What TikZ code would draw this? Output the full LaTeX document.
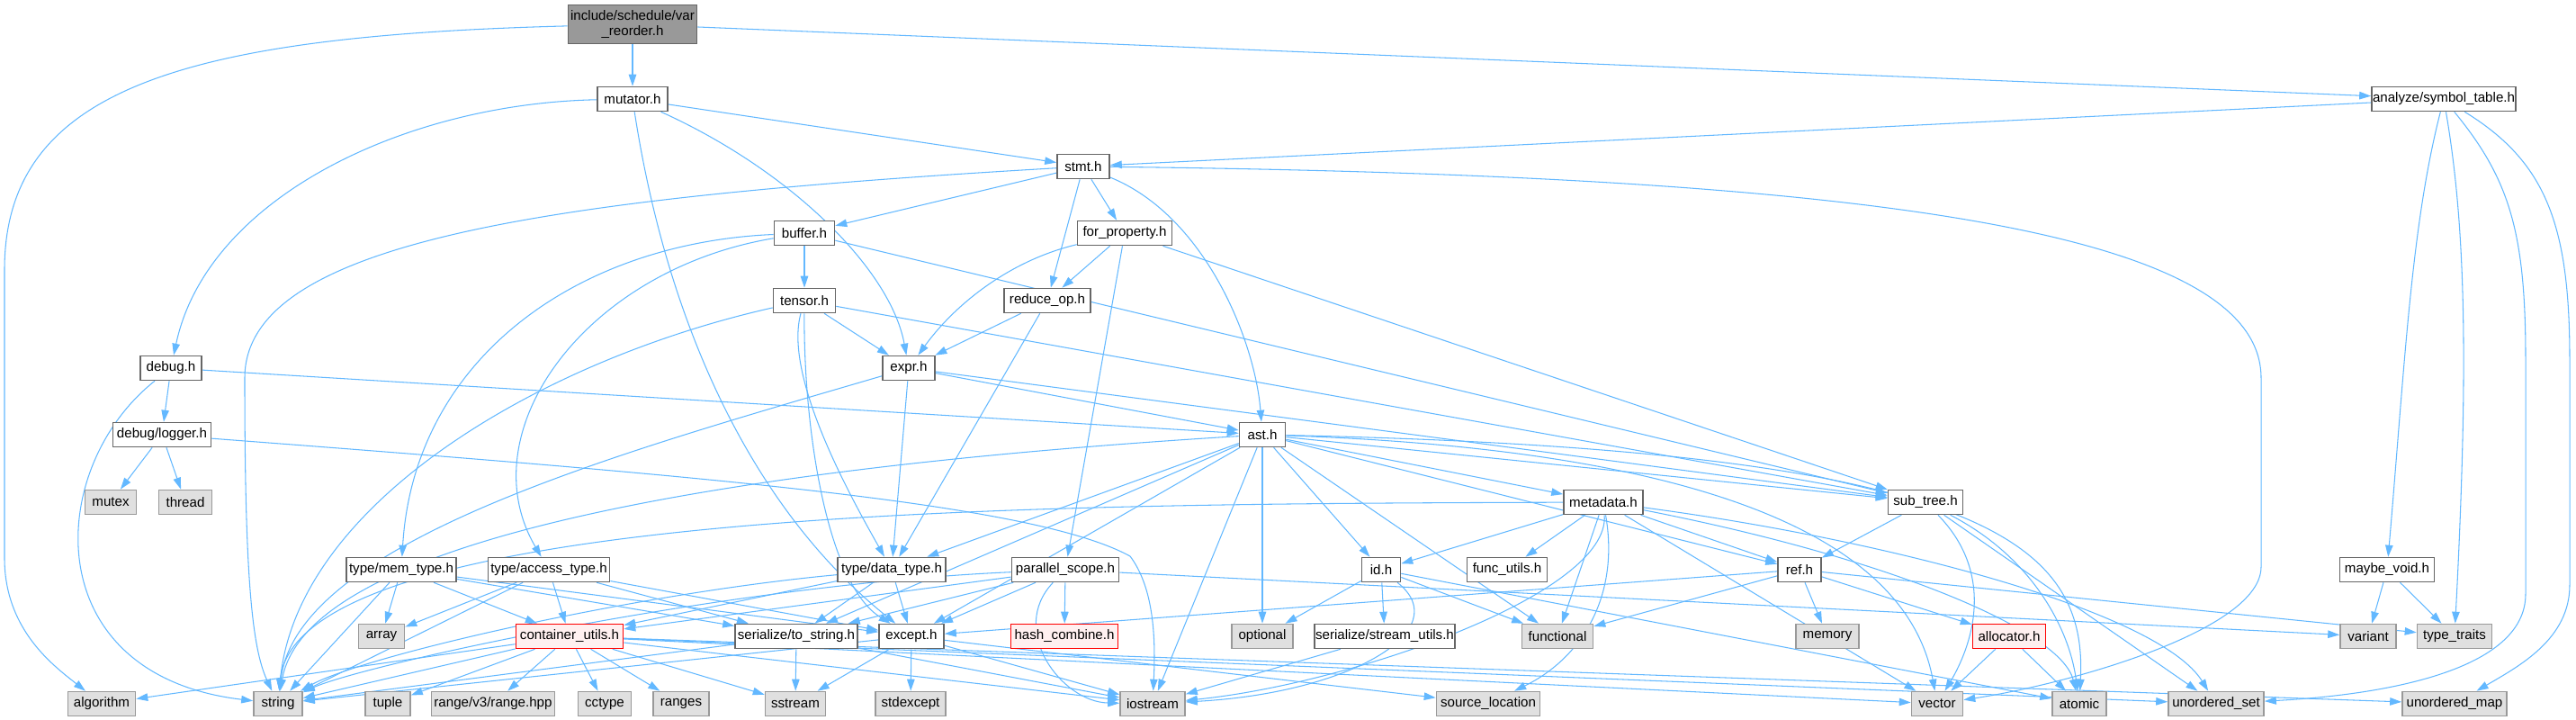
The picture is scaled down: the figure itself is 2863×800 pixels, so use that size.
\documentclass[tikz,border=0pt]{standalone}
\usepackage{fontspec}
\setmainfont{Liberation Sans}
\usepackage{tikz}
\usetikzlibrary{arrows.meta}
\definecolor{edgeblue}{HTML}{63B8FF}
\definecolor{boxline}{HTML}{666666}
\definecolor{sysfill}{HTML}{E0E0E0}
\definecolor{sysline}{HTML}{999999}
\definecolor{topfill}{HTML}{999999}
\definecolor{missfill}{HTML}{FFF0F0}
\pgfdeclarelayer{edges}
\pgfsetlayers{edges,main}
\tikzset{
  hdr/.style={draw=boxline, fill=white, line width=0.45pt, minimum height=0.27cm,
    inner sep=0pt, font=\fontsize{4.3}{4.8}\selectfont},
  sys/.style={hdr, draw=sysline, fill=sysfill},
  miss/.style={hdr, draw=red, fill=missfill},
  topfile/.style={hdr, fill=topfill, minimum height=0.43cm, align=center},
  dep/.style={-{Triangle[length=1.3mm,width=0.85mm]}, draw=edgeblue, line width=0.3pt},
}

\begin{document}
\begin{tikzpicture}[x=0.01cm,y=-0.01cm]
      \useasboundingbox (0,0) rectangle (2863,800);
      % files of the project
      \node[topfile, minimum width=1.43cm] (vr) at (703,27) {include/schedule/var\\\_reorder.h};
      \node[hdr, minimum width=0.78cm] (mutator) at (703,110) {mutator.h};
      \node[hdr, minimum width=1.60cm] (symtab) at (2716,110) {analyze/symbol\_table.h};
      \node[hdr, minimum width=0.58cm] (stmt) at (1204,185) {stmt.h};
      \node[hdr, minimum width=0.67cm] (buffer) at (894,259) {buffer.h};
      \node[hdr, minimum width=1.05cm] (forprop) at (1250,259) {for\_property.h};
      \node[hdr, minimum width=0.69cm] (tensor) at (894,334) {tensor.h};
      \node[hdr, minimum width=0.96cm] (reduceop) at (1164,334) {reduce\_op.h};
      \node[hdr, minimum width=0.68cm] (debug) at (190,409) {debug.h};
      \node[hdr, minimum width=0.58cm] (expr) at (1010,409) {expr.h};
      \node[hdr, minimum width=1.09cm] (logger) at (180,483) {debug/logger.h};
      \node[hdr, minimum width=0.51cm] (ast) at (1403,483) {ast.h};
      \node[hdr, minimum width=0.88cm] (metadata) at (1782,558) {metadata.h};
      \node[hdr, minimum width=0.83cm] (subtree) at (2140,558) {sub\_tree.h};
      \node[hdr, minimum width=1.22cm] (memtype) at (446,633) {type/mem\_type.h};
      \node[hdr, minimum width=1.35cm] (accesstype) at (610,633) {type/access\_type.h};
      \node[hdr, minimum width=1.20cm] (datatype) at (991,633) {type/data\_type.h};
      \node[hdr, minimum width=1.19cm] (parscope) at (1184,633) {parallel\_scope.h};
      \node[hdr, minimum width=0.43cm] (id) at (1535,633) {id.h};
      \node[hdr, minimum width=0.89cm] (funcutils) at (1675,633) {func\_utils.h};
      \node[hdr, minimum width=0.48cm] (ref) at (2000,633) {ref.h};
      \node[hdr, minimum width=1.05cm] (maybevoid) at (2653,633) {maybe\_void.h};
      \node[miss, minimum width=1.19cm] (contutils) at (633,707) {container\_utils.h};
      \node[hdr, minimum width=1.36cm] (tostring) at (885,707) {serialize/to\_string.h};
      \node[hdr, minimum width=0.72cm] (except) at (1013,707) {except.h};
      \node[miss, minimum width=1.19cm] (hashcomb) at (1183,707) {hash\_combine.h};
      \node[hdr, minimum width=1.56cm] (streamutils) at (1539,707) {serialize/stream\_utils.h};
      \node[miss, minimum width=0.81cm] (allocator) at (2233,707) {allocator.h};
      % system headers
      \node[sys, minimum width=0.57cm] (mutex) at (123,558) {mutex};
      \node[sys, minimum width=0.59cm] (thread) at (206,558) {thread};
      \node[sys, minimum width=0.51cm] (array) at (424,707) {array};
      \node[sys, minimum width=0.68cm] (optional) at (1403,707) {optional};
      \node[sys, minimum width=0.79cm] (functional) at (1731,707) {functional};
      \node[sys, minimum width=0.70cm] (memory) at (2031,707) {memory};
      \node[sys, minimum width=0.62cm] (variant) at (2632,707) {variant};
      \node[sys, minimum width=0.83cm] (typetraits) at (2728,707) {type\_traits};
      \node[sys, minimum width=0.75cm] (algorithm) at (113,782) {algorithm};
      \node[sys, minimum width=0.54cm] (string) at (309,782) {string};
      \node[sys, minimum width=0.50cm] (tuple) at (431,782) {tuple};
      \node[sys, minimum width=1.37cm] (rangev3) at (548,782) {range/v3/range.hpp};
      \node[sys, minimum width=0.59cm] (cctype) at (672,782) {cctype};
      \node[sys, minimum width=0.62cm] (ranges) at (757,782) {ranges};
      \node[sys, minimum width=0.67cm] (sstream) at (884,782) {sstream};
      \node[sys, minimum width=0.78cm] (stdexcept) at (1012,782) {stdexcept};
      \node[sys, minimum width=0.72cm] (iostream) at (1281,782) {iostream};
      \node[sys, minimum width=1.15cm] (sourceloc) at (1654,782) {source\_location};
      \node[sys, minimum width=0.57cm] (vector) at (2153,782) {vector};
      \node[sys, minimum width=0.60cm] (atomic) at (2311,782) {atomic};
      \node[sys, minimum width=1.06cm] (unordset) at (2463,782) {unordered\_set};
      \node[sys, minimum width=1.16cm] (unordmap) at (2728,782) {unordered\_map};
      \begin{pgfonlayer}{edges}
      % var_reorder.h
      \draw[dep] (vr) .. controls (200,40) and (5,100) .. (5,300) -- (5,620) .. controls (5,700) and (60,740) .. (algorithm);
      \draw[dep] (vr) -- (mutator);
      \draw[dep] (vr) -- (symtab);
      % mutator.h
      \draw[dep] (mutator) .. controls (450,115) and (230,220) .. (debug);
      \draw[dep] (mutator) -- (stmt);
      \draw[dep] (mutator) .. controls (880,190) and (990,300) .. (expr);
      \draw[dep] (mutator) .. controls (740,350) and (830,560) .. (except);
      % analyze/symbol_table.h
      \draw[dep] (symtab) -- (stmt);
      \draw[dep] (symtab) .. controls (2680,250) and (2673,400) .. (maybevoid);
      \draw[dep] (symtab) .. controls (2740,250) and (2744,400) .. (typetraits);
      \draw[dep] (symtab) .. controls (2790,200) and (2807,260) .. (2807,400) -- (2807,660) .. controls (2807,745) and (2650,772) .. (unordset);
      \draw[dep] (symtab) .. controls (2830,180) and (2856,250) .. (2856,400) -- (2856,650) .. controls (2856,710) and (2800,740) .. (unordmap);
      % stmt.h
      \draw[dep] (stmt) -- (buffer);
      \draw[dep] (stmt) -- (forprop);
      \draw[dep] (stmt) -- (reduceop);
      \draw[dep] (stmt) .. controls (1340,240) and (1395,380) .. (ast);
      \draw[dep] (stmt) .. controls (600,220) and (272,270) .. (272,420) .. controls (272,640) and (280,720) .. (string);
      \draw[dep] (stmt) .. controls (2100,195) and (2513,260) .. (2513,420) -- (2513,630) .. controls (2513,700) and (2300,760) .. (vector);
      % buffer.h
      \draw[dep] (buffer) -- (tensor);
      \draw[dep] (buffer) .. controls (640,270) and (460,400) .. (memtype);
      \draw[dep] (buffer) .. controls (650,300) and (520,480) .. (accesstype);
      \draw[dep] (buffer) -- (subtree);
      % for_property.h
      \draw[dep] (forprop) -- (reduceop);
      \draw[dep] (forprop) .. controls (1120,290) and (1060,340) .. (expr);
      \draw[dep] (forprop) -- (parscope);
      \draw[dep] (forprop) -- (subtree);
      % tensor.h
      \draw[dep] (tensor) -- (expr);
      \draw[dep] (tensor) .. controls (870,420) and (950,560) .. (datatype);
      \draw[dep] (tensor) .. controls (893,480) and (920,650) .. (except);
      \draw[dep] (tensor) .. controls (600,400) and (330,560) .. (string);
      \draw[dep] (tensor) -- (subtree);
      % reduce_op.h
      \draw[dep] (reduceop) -- (expr);
      \draw[dep] (reduceop) -- (datatype);
      % debug.h
      \draw[dep] (debug) -- (logger);
      \draw[dep] (debug) .. controls (50,520) and (40,750) .. (string);
      \draw[dep] (debug) -- (ast);
      \draw[dep] (logger) -- (mutex);
      \draw[dep] (logger) -- (thread);
      \draw[dep] (logger) .. controls (800,530) and (1150,560) .. (1256,618) .. controls (1280,650) and (1285,700) .. (iostream);
      % expr.h
      \draw[dep] (expr) -- (ast);
      \draw[dep] (expr) -- (datatype);
      \draw[dep] (expr) .. controls (700,500) and (330,600) .. (string);
      \draw[dep] (expr) -- (subtree);
      % ast.h
      \draw[dep] (ast) -- (metadata);
      \draw[dep] (ast) -- (subtree);
      \draw[dep] (ast) -- (id);
      \draw[dep] (ast) -- (datatype);
      \draw[dep] (ast) -- (tostring);
      \draw[dep] (ast) -- (except);
      \draw[dep] (ast) -- (optional);
      \draw[dep] (ast) -- (iostream);
      \draw[dep] (ast) .. controls (800,520) and (340,600) .. (string);
      \draw[dep] (ast) -- (functional);
      \draw[dep] (ast) .. controls (2200,500) and (2320,600) .. (atomic);
      \draw[dep] (ast) .. controls (1900,500) and (2120,600) .. (vector);
      \draw[dep] (ast) -- (ref);
      % metadata.h
      \draw[dep] (metadata) -- (id);
      \draw[dep] (metadata) -- (funcutils);
      \draw[dep] (metadata) -- (functional);
      \draw[dep] (metadata) -- (ref);
      \draw[dep] (metadata) -- (vector);
      \draw[dep] (metadata) .. controls (1800,660) and (1760,730) .. (sourceloc);
      \draw[dep] (metadata) .. controls (1790,660) and (1500,760) .. (iostream);
      \draw[dep] (metadata) .. controls (2100,600) and (2400,680) .. (unordset);
      \draw[dep] (metadata) .. controls (1200,560) and (330,560) .. (string);
      \draw[dep] (metadata) .. controls (2100,620) and (2290,700) .. (atomic);
      % sub_tree.h
      \draw[dep] (subtree) -- (ref);
      \draw[dep] (subtree) .. controls (2260,620) and (2300,700) .. (atomic);
      \draw[dep] (subtree) .. controls (2220,640) and (2190,720) .. (vector);
      \draw[dep] (subtree) -- (unordset);
      % type/mem_type.h, type/access_type.h
      \draw[dep] (memtype) -- (array);
      \draw[dep] (memtype) -- (string);
      \draw[dep] (memtype) -- (contutils);
      \draw[dep] (memtype) -- (tostring);
      \draw[dep] (memtype) -- (except);
      \draw[dep] (accesstype) -- (array);
      \draw[dep] (accesstype) -- (string);
      \draw[dep] (accesstype) -- (contutils);
      \draw[dep] (accesstype) -- (tostring);
      \draw[dep] (accesstype) -- (except);
      % type/data_type.h
      \draw[dep] (datatype) -- (tostring);
      \draw[dep] (datatype) -- (except);
      \draw[dep] (datatype) .. controls (700,660) and (400,730) .. (string);
      \draw[dep] (datatype) -- (contutils);
      % parallel_scope.h
      \draw[dep] (parscope) -- (hashcomb);
      \draw[dep] (parscope) -- (except);
      \draw[dep] (parscope) -- (tostring);
      \draw[dep] (parscope) .. controls (800,650) and (400,740) .. (string);
      \draw[dep] (parscope) .. controls (1120,700) and (1180,780) .. (iostream);
      \draw[dep] (parscope) -- (variant);
      \draw[dep] (parscope) -- (contutils);
      % id.h
      \draw[dep] (id) -- (optional);
      \draw[dep] (id) -- (streamutils);
      \draw[dep] (id) .. controls (1620,700) and (1500,770) .. (iostream);
      \draw[dep] (id) -- (functional);
      \draw[dep] (id) -- (atomic);
      \draw[dep] (streamutils) -- (iostream);
      % ref.h
      \draw[dep] (ref) -- (memory);
      \draw[dep] (ref) -- (allocator);
      \draw[dep] (ref) -- (functional);
      \draw[dep] (ref) -- (typetraits);
      \draw[dep] (ref) -- (except);
      \draw[dep] (allocator) -- (vector);
      \draw[dep] (allocator) -- (atomic);
      \draw[dep] (maybevoid) -- (variant);
      \draw[dep] (maybevoid) -- (typetraits);
      % container_utils.h
      \draw[dep] (contutils) -- (algorithm);
      \draw[dep] (contutils) -- (string);
      \draw[dep] (contutils) -- (tuple);
      \draw[dep] (contutils) -- (rangev3);
      \draw[dep] (contutils) -- (cctype);
      \draw[dep] (contutils) -- (ranges);
      \draw[dep] (contutils) -- (sstream);
      \draw[dep] (contutils) -- (iostream);
      \draw[dep] (contutils) -- (vector);
      \draw[dep] (contutils) -- (unordset);
      \draw[dep] (contutils) -- (unordmap);
      % serialize/to_string.h, except.h
      \draw[dep] (tostring) -- (sstream);
      \draw[dep] (tostring) -- (iostream);
      \draw[dep] (tostring) -- (string);
      \draw[dep] (except) -- (stdexcept);
      \draw[dep] (except) -- (sstream);
      \draw[dep] (except) -- (iostream);
      \draw[dep] (except) -- (sourceloc);
      \draw[dep] (except) -- (string);
      \end{pgfonlayer}
    \end{tikzpicture}
\end{document}
